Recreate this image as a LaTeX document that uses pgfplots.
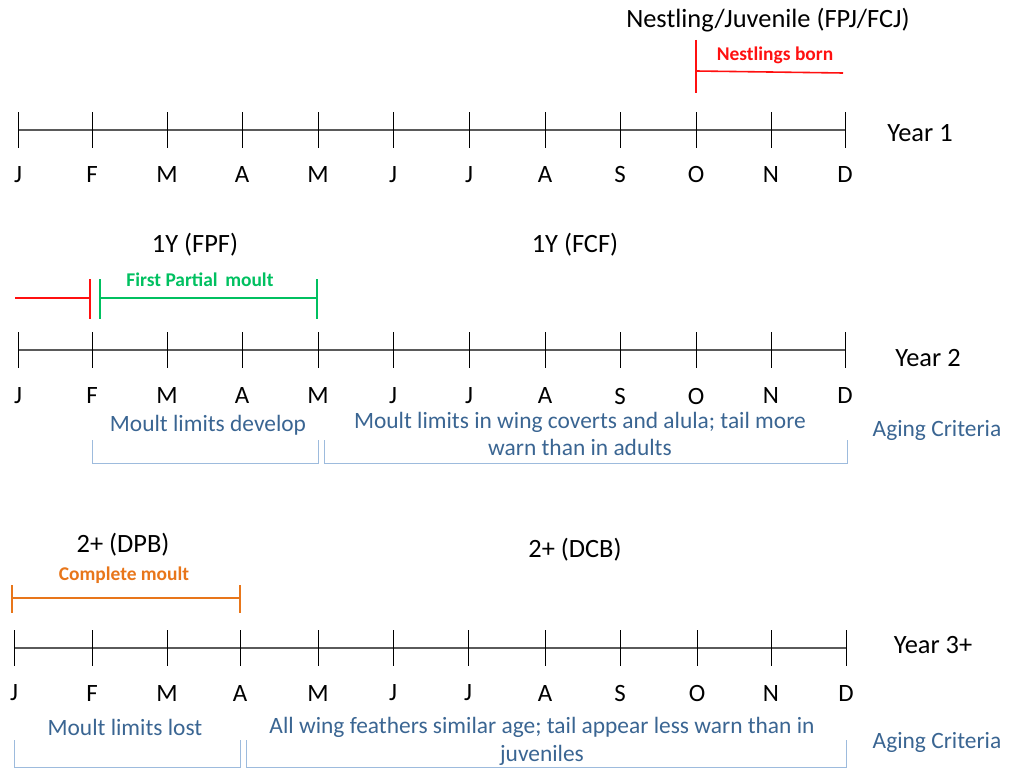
\documentclass[border=0pt]{standalone}
\usepackage{pgfplots}
\usepackage{pgfplotstable}
\pgfplotsset{compat=1.18}
\usepackage{fontspec}
\setmainfont{Carlito}

\definecolor{lineg}{HTML}{5A5A5A}
\definecolor{nred}{HTML}{FF1010}
\definecolor{mgreen}{HTML}{00C060}
\definecolor{morange}{HTML}{E8761A}
\definecolor{ablue}{HTML}{3A6592}
\definecolor{bracket}{HTML}{9DBBDD}

% month positions (pixels) for each year row
\pgfplotstableread{
x lab
18 J
92 F
167 M
242 A
318 M
393 J
469 J
545 A
620 S
696 O
771 N
845 D
}\rowone
\pgfplotstableread{
x lab
18 J
92 F
167 M
242 A
318 M
393 J
469 J
545 A
620 S
696 O
771 N
845 D
}\rowtwo
\pgfplotstableread{
x lab
14 J
92 F
167 M
240 A
318 M
393 J
468 J
545 A
620 S
697 O
771 N
846 D
}\rowthree

\newcommand{\fmon}{\fontsize{25}{28}\selectfont}
\newcommand{\fbig}{\fontsize{26.5}{30}\selectfont}
\newcommand{\fmid}{\fontsize{23.5}{28}\selectfont}
\newcommand{\fsm}{\fontsize{19.5}{22}\selectfont\bfseries}

\begin{document}
\begin{tikzpicture}
\begin{axis}[
    scale only axis,
    width=1011bp, height=769bp,
    xmin=0, xmax=1011, ymin=0, ymax=769,
    y dir=reverse,
    hide axis,
    clip=false,
    ticks=none,
]

% ---- year lines
\addplot[lineg, line width=1.3pt] coordinates {(18,130) (845,130)};
\addplot[lineg, line width=1.3pt] coordinates {(18,350) (845,350)};
\addplot[lineg, line width=1.3pt] coordinates {(14,648) (846,648)};

% ---- month ticks
\addplot[draw=none, mark=none, error bars/.cd, y dir=both, y fixed=18,
    error mark=none, error bar style={black, line width=0.8pt}]
    table[x=x, y expr=130] {\rowone};
\addplot[draw=none, mark=none, error bars/.cd, y dir=both, y fixed=18,
    error mark=none, error bar style={black, line width=0.8pt}]
    table[x=x, y expr=350] {\rowtwo};
\addplot[draw=none, mark=none, error bars/.cd, y dir=both, y fixed=18,
    error mark=none, error bar style={black, line width=0.8pt}]
    table[x=x, y expr=648] {\rowthree};

% ---- month letters
\addplot[draw=none, mark=none, nodes near coords, point meta=explicit symbolic,
    every node near coord/.style={anchor=center, font=\fmon, inner sep=0pt}]
    table[x=x, y expr=175, meta=lab] {\rowone};
\addplot[draw=none, mark=none, nodes near coords, point meta=explicit symbolic,
    every node near coord/.style={anchor=center, font=\fmon, inner sep=0pt}]
    table[x=x, y expr=396, meta=lab] {\rowtwo};
\addplot[draw=none, mark=none, nodes near coords, point meta=explicit symbolic,
    every node near coord/.style={anchor=center, font=\fmon, inner sep=0pt}]
    table[x=x, y expr=693, meta=lab] {\rowthree};

% ---- year names
\node[font=\fbig] at (axis cs:920,133) {Year 1};
\node[font=\fbig] at (axis cs:928,358) {Year 2};
\node[font=\fbig] at (axis cs:933,645) {Year 3+};

% ---- stage titles
\node[font=\fbig] at (axis cs:768,20) {Nestling/Juvenile (FPJ/FCJ)};
\node[font=\fbig] at (axis cs:195,245) {1Y (FPF)};
\node[font=\fbig] at (axis cs:575,245) {1Y (FCF)};
\node[font=\fbig] at (axis cs:123,545) {2+ (DPB)};
\node[font=\fbig] at (axis cs:575,550) {2+ (DCB)};

% ---- year 1: nestlings born
\addplot[nred, line width=1.6pt] coordinates {(696,40) (696,93)};
\addplot[nred, line width=1.6pt] coordinates {(696,71) (843,73)};
\node[font=\fsm, text=nred] at (axis cs:775,55) {Nestlings born};

% ---- year 2: nestling end + first partial moult
\addplot[nred, line width=1.6pt] coordinates {(15,298) (90,298)};
\addplot[nred, line width=1.6pt] coordinates {(90,279) (90,319)};
\addplot[mgreen, line width=1.6pt] coordinates {(100,279) (100,319)};
\addplot[mgreen, line width=1.6pt] coordinates {(100,298) (317,298)};
\addplot[mgreen, line width=1.6pt] coordinates {(317,279) (317,319)};
\node[font=\fsm, text=mgreen] at (axis cs:200,280) {First Partial\, moult};

% ---- year 3: complete moult
\addplot[morange, line width=1.6pt] coordinates {(12,585) (12,613)};
\addplot[morange, line width=1.6pt] coordinates {(12,598) (240,598)};
\addplot[morange, line width=1.6pt] coordinates {(240,585) (240,613)};
\node[font=\fsm, text=morange] at (axis cs:124,575) {Complete moult};

% ---- aging criteria, year 2
\addplot[bracket, line width=0.9pt] coordinates {(92,440) (92,463) (318,463) (318,440)};
\addplot[bracket, line width=0.9pt] coordinates {(324,440) (324,463) (847,463) (847,440)};
\node[font=\fmid, text=ablue] at (axis cs:208,425) {Moult limits develop};
\node[font=\fmid, text=ablue, align=center] at (axis cs:580,434)
    {Moult limits in wing coverts and alula; tail more\\warn than in adults};
\node[font=\fmid, text=ablue] at (axis cs:937,430) {Aging Criteria};

% ---- aging criteria, year 3
\addplot[bracket, line width=0.9pt] coordinates {(14,740) (14,767) (240,767) (240,740)};
\addplot[bracket, line width=0.9pt] coordinates {(246,740) (246,767) (846,767) (846,740)};
\node[font=\fmid, text=ablue] at (axis cs:125,727) {Moult limits lost};
\node[font=\fmid, text=ablue, align=center] at (axis cs:542,741)
    {All wing feathers similar age; tail appear less warn than in\\juveniles};
\node[font=\fmid, text=ablue] at (axis cs:937,742) {Aging Criteria};

\end{axis}
\pgfresetboundingbox
\path (current axis.south west) rectangle (current axis.north east);
\end{tikzpicture}
\end{document}
